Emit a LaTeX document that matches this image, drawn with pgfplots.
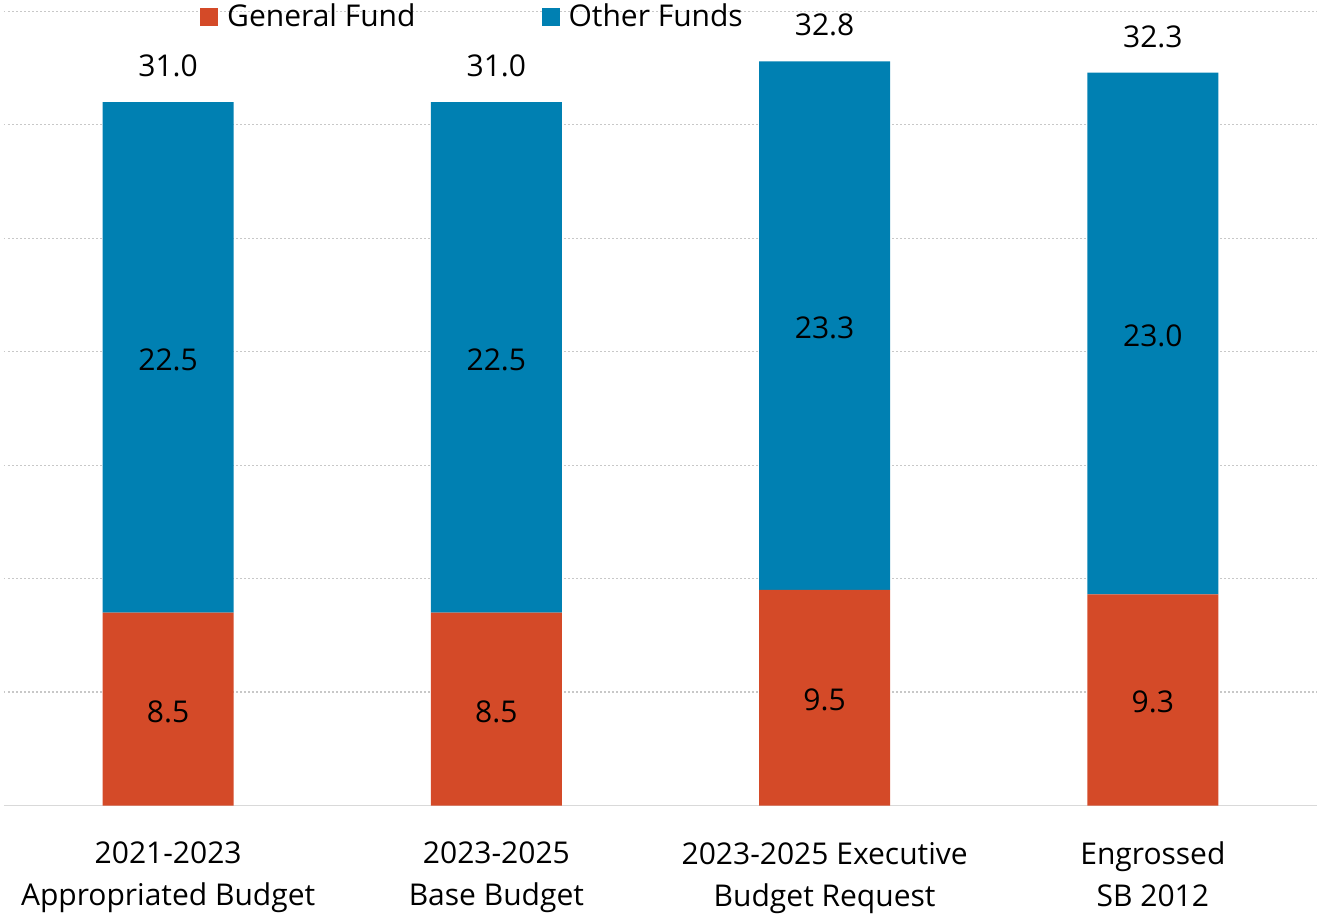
\documentclass[border=0pt]{standalone}
\usepackage{fontspec}
\setmainfont{Open Sans}
\usepackage{pgfplots}
\usepackage{pgfplotstable}
\pgfplotsset{compat=1.18}
\definecolor{gfcol}{RGB}{212,74,40}
\definecolor{ofcol}{RGB}{0,128,178}
\definecolor{gridcol}{RGB}{200,200,200}
\definecolor{axcol}{RGB}{217,217,217}
\pgfplotstableread{
x gf of total
0 8.5 22.5 31.0
1 8.5 22.5 31.0
2 9.5 23.3 32.8
3 9.3 23.0 32.3
}\budget
\begin{document}
\begin{tikzpicture}[font=\fontsize{30}{42}\selectfont]
\begin{axis}[
  scale only axis,
  x=328.25pt, y=22.69pt,
  xmin=-0.5, xmax=3.5, ymin=0, ymax=35.5,
  ybar stacked, bar width=131pt,
  axis x line*=bottom, axis y line*=left,
  y axis line style={draw=none},
  x axis line style={draw=axcol, line width=1.2pt},
  xtick=data,
  xticklabels={{2021-2023\\Appropriated Budget},{2023-2025\\Base Budget},{2023-2025 Executive\\Budget Request},{Engrossed\\SB 2012}},
  xticklabel style={align=center, anchor=north, yshift=-33pt},
  ytick={5,10,...,35}, yticklabels={},
  major tick length=0pt,
  ymajorgrids, grid style={gridcol, line width=1.2pt, dash pattern=on 1.5pt off 2.5pt},
  legend columns=2,
  legend style={at={(0.1493,1)}, anchor=north west, draw=none, fill=none, inner sep=0pt, yshift=-1.5pt,
    /tikz/every even column/.style={column sep=124pt}},
  legend image code/.code={\fill[#1] (0pt,-10.5pt) rectangle (18pt,7.5pt); \path (25pt,0pt);},
  nodes near coords={\pgfmathprintnumber[fixed,fixed zerofill,precision=1,assume math mode=true]{\pgfplotspointmeta}},
  point meta=explicit,
  every node near coord/.style={text=black, anchor=base, yshift=-13pt},
]
\addplot[fill=gfcol, draw=none] table[x=x, y=gf, meta=gf] {\budget};
\addlegendentry{General Fund}
\addplot[fill=ofcol, draw=none] table[x=x, y=of, meta=of] {\budget};
\addlegendentry{Other Funds}
\end{axis}
\begin{axis}[
  scale only axis, hide axis,
  x=328.25pt, y=22.69pt,
  xmin=-0.5, xmax=3.5, ymin=0, ymax=35.5,
  ybar, bar width=131pt, bar shift=0pt,
  nodes near coords={\pgfmathprintnumber[fixed,fixed zerofill,precision=1,assume math mode=true]{\pgfplotspointmeta}},
  point meta=explicit,
  every node near coord/.style={text=black, anchor=base, yshift=25.5pt},
]
\addplot[draw=none, fill=none] table[x=x, y=total, meta=total] {\budget};
\end{axis}
\pgfresetboundingbox
\path (-4pt,-108.5pt) rectangle (1313pt,805.5pt);
\end{tikzpicture}
\end{document}
